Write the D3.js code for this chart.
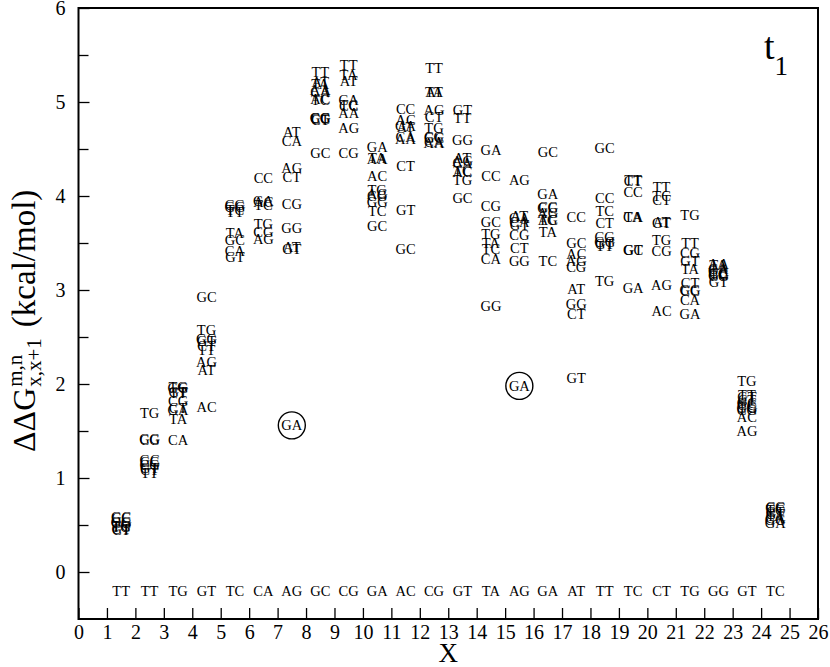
<!DOCTYPE html>
<html>
<head>
<meta charset="utf-8">
<script src="https://cdn.jsdelivr.net/npm/d3@7"></script>
<style>
  body { margin: 0; background: #fff; }
  svg, svg text { font-family: "Liberation Serif", "Times New Roman", Times, serif !important; fill: #000; }
</style>
</head>
<body>
<svg id="chart"></svg>
<script>
const WIDTH = 830;
const HEIGHT = 667;
const margin = { left: 78.5, right: 12, top: 8, bottom: 48 };

// sequence written under the clusters
const seqLabels = ["TT", "TT", "TG", "GT", "TC", "CA", "AG", "GC", "CG", "GA", "AC", "CG",
   "GT", "TA", "AG", "GA", "AT", "TT", "TC", "CT", "TG", "GG", "GT", "TC"];
const clusterX = [1.5, 2.5, 3.5, 4.5, 5.5, 6.5, 7.5, 8.5, 9.5, 10.5, 11.5, 12.5,
   13.5, 14.5, 15.5, 16.5, 17.5, 18.5, 19.5, 20.5, 21.5, 22.5, 23.5, 24.5];

// dinucleotide labels for each cluster and their ddG values (kcal/mol)
const pairs = [
   ["GC", "CC", "GG", "CG", "TC", "TG", "GT", "CT"],
   ["TG", "GG", "CG", "GC", "CC", "CG", "GT", "CT", "TT"],
   ["TG", "GG", "GT", "TT", "CG", "CT", "GA", "TA", "CA"],
   ["GC", "TG", "GG", "GT", "CT", "TT", "AG", "AT", "AC"],
   ["CG", "GG", "TC", "TT", "TA", "GC", "CA", "GT"],
   ["CC", "GA", "AC", "TC", "TG", "CG", "AG"],
   ["AT", "CA", "AG", "CT", "CG", "GG", "AT", "GT"],
   ["TT", "AT", "TA", "AA", "CA", "AC", "TC", "GG", "CC", "CG", "CT", "GC"],
   ["TT", "TA", "AT", "CA", "TC", "CC", "AA", "AG", "CG"],
   ["GA", "TA", "AA", "AC", "TG", "AG", "CG", "GG", "TC", "GC"],
   ["CC", "AC", "GA", "AT", "CA", "AA", "CT", "GT", "GC"],
   ["TT", "TA", "AT", "AG", "CT", "TG", "CG", "GC", "CA", "AA"],
   ["GT", "TT", "GG", "AT", "AG", "CA", "TC", "AC", "TG", "GC"],
   ["GA", "CC", "CG", "GC", "TG", "TA", "TC", "CA", "GG"],
   ["AG", "AT", "GA", "CA", "GT", "CG", "CT", "GG"],
   ["GC", "GA", "CC", "GG", "AG", "AC", "TG", "TA", "TC"],
   ["CC", "GC", "AC", "AG", "CG", "AT", "GG", "CT", "GT"],
   ["GC", "CC", "TC", "CT", "CG", "GG", "GT", "TT", "TG"],
   ["TT", "CT", "CC", "CA", "TA", "GT", "GC", "GA"],
   ["TT", "TC", "CT", "AT", "GT", "TG", "CG", "AG", "AC"],
   ["TG", "TT", "CG", "GT", "TA", "CT", "GG", "CC", "CA", "GA"],
   ["AA", "TA", "CA", "GA", "CC", "TC", "GC", "CG", "GT"],
   ["TG", "TT", "GT", "CT", "GC", "CC", "TC", "GG", "CG", "AC", "AG"],
   ["CC", "GC", "TC", "CT", "GT", "TA", "CA", "GG", "GA"]
];
const ddG = [
   [0.58, 0.57, 0.53, 0.52, 0.49, 0.48, 0.46, 0.45],
   [1.69, 1.41, 1.40, 1.19, 1.17, 1.14, 1.11, 1.09, 1.05],
   [1.97, 1.96, 1.91, 1.90, 1.82, 1.75, 1.72, 1.63, 1.40],
   [2.93, 2.57, 2.48, 2.46, 2.40, 2.36, 2.23, 2.15, 1.76],
   [3.90, 3.88, 3.85, 3.83, 3.61, 3.53, 3.42, 3.35],
   [4.19, 3.95, 3.94, 3.90, 3.70, 3.62, 3.54],
   [4.68, 4.59, 4.30, 4.20, 3.91, 3.66, 3.46, 3.44],
   [5.32, 5.21, 5.19, 5.13, 5.11, 5.03, 5.02, 4.83, 4.82, 4.83, 4.81, 4.46],
   [5.39, 5.29, 5.22, 5.02, 4.97, 4.96, 4.88, 4.72, 4.46],
   [4.52, 4.40, 4.39, 4.21, 4.06, 4.02, 4.00, 3.94, 3.84, 3.68],
   [4.93, 4.81, 4.74, 4.73, 4.63, 4.61, 4.32, 3.85, 3.44],
   [5.36, 5.11, 5.11, 4.92, 4.84, 4.72, 4.63, 4.62, 4.57, 4.56],
   [4.91, 4.83, 4.60, 4.40, 4.37, 4.35, 4.27, 4.26, 4.17, 3.98],
   [4.49, 4.21, 3.89, 3.72, 3.60, 3.50, 3.44, 3.33, 2.83],
   [4.17, 3.79, 3.77, 3.72, 3.69, 3.59, 3.45, 3.31],
   [4.47, 4.02, 3.88, 3.87, 3.82, 3.75, 3.74, 3.62, 3.31],
   [3.78, 3.50, 3.38, 3.31, 3.25, 3.01, 2.85, 2.74, 2.06],
   [4.51, 3.98, 3.84, 3.71, 3.56, 3.51, 3.49, 3.47, 3.10],
   [4.17, 4.16, 4.04, 3.78, 3.78, 3.43, 3.43, 3.02],
   [4.10, 4.00, 3.96, 3.72, 3.71, 3.53, 3.41, 3.05, 2.78],
   [3.80, 3.50, 3.39, 3.31, 3.22, 3.07, 3.00, 2.99, 2.89, 2.75],
   [3.28, 3.27, 3.22, 3.20, 3.18, 3.17, 3.16, 3.15, 3.09],
   [2.03, 1.88, 1.86, 1.83, 1.80, 1.78, 1.76, 1.74, 1.72, 1.65, 1.50],
   [0.69, 0.68, 0.66, 0.64, 0.62, 0.60, 0.57, 0.55, 0.52]
];
const seqLabelY = -0.2;

// circled outliers
const circledX = [7.5, 15.5];
const circledY = [1.56, 1.98];
const circledLabel = ["GA", "GA"];

const xTicks = d3.range(0, 27);
const yTicks = [0, 1, 2, 3, 4, 5, 6];
const yMinorTicks = [0.5, 1.5, 2.5, 3.5, 4.5, 5.5];

const svg = d3.select("#chart").attr("width", WIDTH).attr("height", HEIGHT)
   .attr("font-family", "Liberation Serif, serif");

const xScale = d3.scaleLinear().domain([0, 26]).range([margin.left, WIDTH - margin.right]);
const yScale = d3.scaleLinear().domain([-0.5, 6]).range([HEIGHT - margin.bottom, margin.top]);

const x0 = xScale(0), x1 = xScale(26), y0 = yScale(-0.5), y1 = yScale(6);

// axes with inward ticks
const axisX = svg.append("g")
   .attr("transform", `translate(0,${y0})`)
   .call(d3.axisBottom(xScale).tickValues(xTicks).tickSize(-11).tickPadding(6).tickFormat(d3.format("d")));
axisX.attr("font-family", null).selectAll("text").style("font-size", "20px");

const axisY = svg.append("g")
   .attr("transform", `translate(${x0},0)`)
   .call(d3.axisLeft(yScale).tickValues(yTicks).tickSize(-11).tickPadding(13).tickFormat(d3.format("d")));
axisY.attr("font-family", null).selectAll("text").style("font-size", "20px");

svg.append("g")
   .attr("transform", `translate(${x0},0)`)
   .call(d3.axisLeft(yScale).tickValues(yMinorTicks).tickSize(-10).tickFormat(""));

svg.selectAll(".domain").remove();
svg.selectAll(".tick line").attr("stroke", "#000").attr("stroke-width", 1.3);

// frame
svg.append("rect")
   .attr("x", x0).attr("y", y1)
   .attr("width", x1 - x0).attr("height", y0 - y1)
   .attr("fill", "none").attr("stroke", "#000").attr("stroke-width", 2);

// dinucleotide labels
const points = [];
pairs.forEach((list, i) => {
   list.forEach((p, j) => points.push({ x: clusterX[i], v: ddG[i][j], label: p }));
});

svg.append("g").selectAll("text")
   .data(points)
   .enter()
   .append("text")
   .attr("x", d => xScale(d.x))
   .attr("y", d => yScale(d.v))
   .attr("text-anchor", "middle")
   .attr("dominant-baseline", "central")
   .style("font-size", "14.5px")
   .text(d => d.label);

svg.append("g").selectAll("text")
   .data(seqLabels)
   .enter()
   .append("text")
   .attr("x", (_, i) => xScale(clusterX[i]))
   .attr("y", yScale(seqLabelY))
   .attr("text-anchor", "middle")
   .attr("dominant-baseline", "central")
   .style("font-size", "14.5px")
   .text(d => d);

const circ = svg.append("g").selectAll("g")
   .data(circledLabel)
   .enter()
   .append("g")
   .attr("transform", (_, i) => `translate(${xScale(circledX[i])},${yScale(circledY[i])})`);
circ.append("circle").attr("r", 13.5).attr("fill", "none").attr("stroke", "#000").attr("stroke-width", 1.4);
circ.append("text")
   .attr("text-anchor", "middle")
   .attr("dominant-baseline", "central")
   .style("font-size", "14.5px")
   .text(d => d);

// x label
svg.append("text")
   .attr("x", (x0 + x1) / 2)
   .attr("y", 662)
   .attr("text-anchor", "middle")
   .style("font-size", "27px")
   .text("X");

// y label: ΔΔG^{m,n}_{x,x+1} (kcal/mol)
const ylab = svg.append("g").attr("transform", "translate(35,0) rotate(-90)");
const u0 = -452;
const main = ylab.append("text").attr("x", u0).attr("y", 0).style("font-size", "32px").text("ΔΔG");
const w1 = main.node().getComputedTextLength();
const sup = ylab.append("text").attr("x", u0 + w1 + 1).attr("y", -13).style("font-size", "21px").text("m,n");
const sub = ylab.append("text").attr("x", u0 + w1 + 1).attr("y", 6).style("font-size", "21px").text("x,x+1");
const w2 = Math.max(sup.node().getComputedTextLength(), sub.node().getComputedTextLength());
ylab.append("text").attr("x", u0 + w1 + w2 + 12).attr("y", 0).style("font-size", "33px").text("(kcal/mol)");

// panel tag
const tag = svg.append("text").attr("x", 764).attr("y", 59);
tag.append("tspan").style("font-size", "38px").text("t");
tag.append("tspan").attr("dy", 16).style("font-size", "27px").text("1");
</script>
</body>
</html>
